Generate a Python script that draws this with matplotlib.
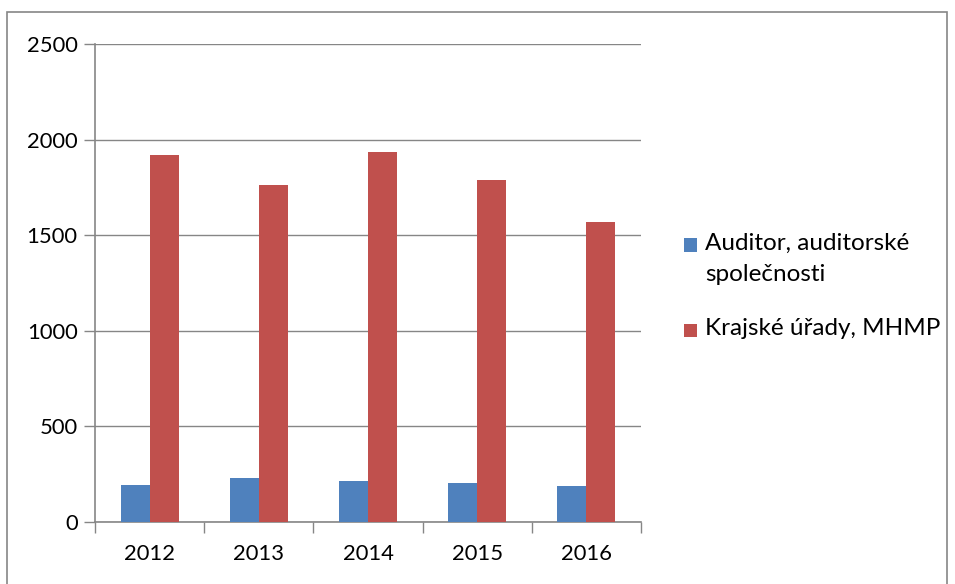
import matplotlib
matplotlib.use("Agg")
import matplotlib.pyplot as plt
from matplotlib.patches import Rectangle
import numpy as np

years = ["2012", "2013", "2014", "2015", "2016"]
series_names = ["Auditor, auditorské\nspolečnosti", "Krajské úřady, MHMP"]
auditor = [195, 230, 214, 204, 190]
krajske = [1918, 1765, 1934, 1787, 1570]
colors = ["#4F81BD", "#C0504D"]
yticks = [0, 500, 1000, 1500, 2000, 2500]

plt.rcParams['font.family'] = ['Lato', 'DejaVu Sans']
W, H = 955, 584
fig = plt.figure(figsize=(W / 100, H / 100), dpi=100)
ax = fig.add_axes([95 / W, 1 - 522 / H, (641 - 95) / W, (522 - 44) / H])

gray = "#868686"
x = np.arange(len(years))
w = 0.265
ax.bar(x - w / 2, auditor, w, color=colors[0], label=series_names[0], zorder=3)
ax.bar(x + w / 2, krajske, w, color=colors[1], label=series_names[1], zorder=3)

ax.set_xlim(-0.5, len(years) - 0.5)
ax.set_ylim(0, 2500)
ax.set_yticks(yticks)
ax.set_yticklabels([str(v) for v in yticks], fontsize=15.8)
ax.yaxis.grid(True, color=gray, linewidth=1)
ax.set_axisbelow(True)

ax.set_xticks(np.arange(-0.5, len(years), 1.0))
ax.set_xticklabels([])
ax.set_xticks(x, minor=True)
ax.set_xticklabels(years, minor=True, fontsize=15.8)
ax.tick_params(axis='x', which='minor', length=0, pad=16)
ax.tick_params(axis='x', which='major', length=8, color=gray, width=1)
ax.tick_params(axis='y', length=8, color=gray, width=1, pad=4.5)

for s in ['top', 'right']:
    ax.spines[s].set_visible(False)
for s in ['left', 'bottom']:
    ax.spines[s].set_color(gray)
    ax.spines[s].set_linewidth(1.2)

# manual legend (Excel style: marker aligned to first line of wrapped label)
leg_y = [245, 330]
for name, col, yy in zip(series_names, colors, leg_y):
    fig.patches.append(Rectangle((684 / W, 1 - (yy + 6.5) / H), 13 / W, 13 / H,
                                 transform=fig.transFigure, facecolor=col,
                                 edgecolor='none'))
    fig.text(705 / W, 1 - (yy - 12) / H, name, fontsize=17.5, va='top',
             ha='left', linespacing=1.6)

fig.patches.append(Rectangle((7 / W, -0.1), (947 - 7) / W, 1.1 - 12 / H,
                             transform=fig.transFigure, fill=False,
                             edgecolor=gray, linewidth=1.2))

fig.savefig("out.png", dpi=100)
